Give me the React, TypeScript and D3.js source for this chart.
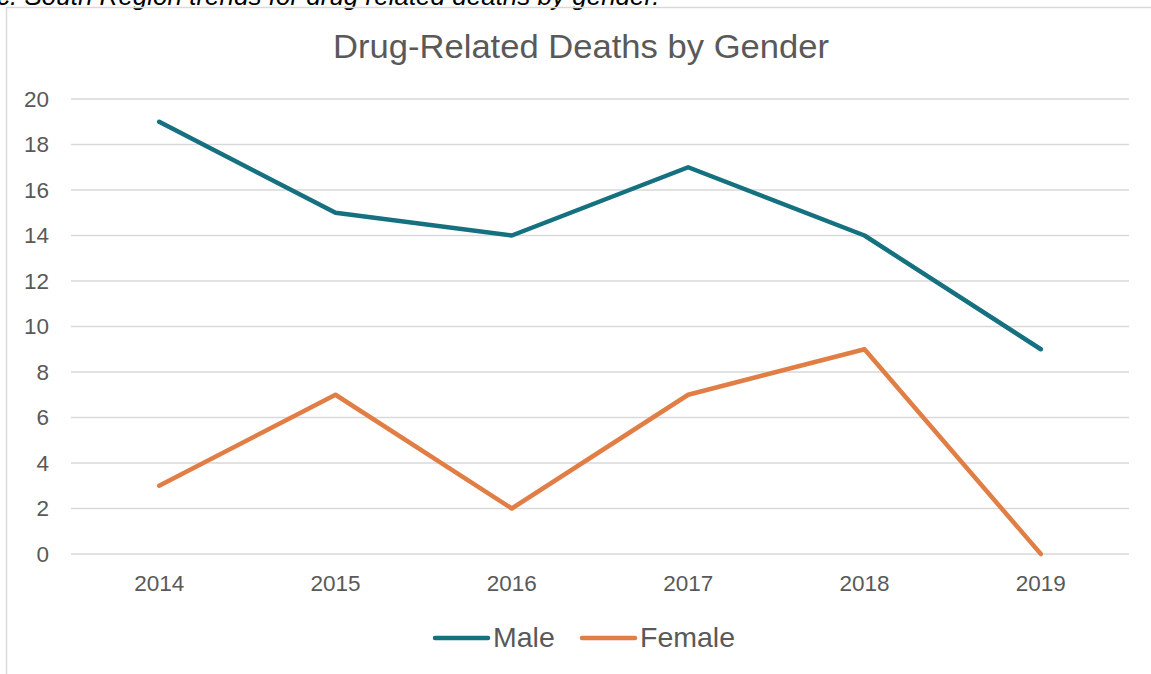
import React from "react";
import * as d3 from "d3";

const years = ["2014", "2015", "2016", "2017", "2018", "2019"];
const maleValues = [19, 15, 14, 17, 14, 9];
const femaleValues = [3, 7, 2, 7, 9, 0];
const yTicks = [0, 2, 4, 6, 8, 10, 12, 14, 16, 18, 20];
const seriesNames = ["Male", "Female"];
const seriesColors = ["#15707F", "#E07E45"];

export default function App() {
  const W = 1151, H = 674;
  const x = d3.scaleBand<string>().domain(years).range([71, 1129]);
  const y = d3.scaleLinear().domain([0, 20]).range([554, 99]);
  const line = d3
    .line<number>()
    .x((_, i) => (x(years[i]) as number) + x.bandwidth() / 2)
    .y((d) => y(d));
  const series = [maleValues, femaleValues];
  const font = "Liberation Sans, Arial, sans-serif";
  const textColor = "#595959";
  return (
    <svg
      width={W}
      height={H}
      style={{ position: "absolute", left: 0, top: 0, background: "#fff" }}
      fontFamily={font}
    >
      <rect x={0} y={0} width={W} height={H} fill="#fff" />
      <text x={-3} y={5} fontSize={26} fontStyle="italic" fill="#000">
        c. South Region trends for drug related deaths by gender.
      </text>
      <line x1={6} x2={W} y1={7.5} y2={7.5} stroke="#d9d9d9" strokeWidth={1.5} />
      <line x1={6.5} x2={6.5} y1={7} y2={H} stroke="#d9d9d9" strokeWidth={1.5} />
      <text x={581} y={58} textAnchor="middle" fontSize={33} fill={textColor} textLength={496} lengthAdjust="spacingAndGlyphs">
        Drug-Related Deaths by Gender
      </text>
      {yTicks.map((t) => (
        <g key={t}>
          <line x1={71} x2={1129} y1={y(t)} y2={y(t)} stroke="#d9d9d9" strokeWidth={1.3} />
          <text x={49} y={y(t) + 7.5} textAnchor="end" fontSize={22.5} fill={textColor}>
            {t}
          </text>
        </g>
      ))}
      {years.map((yr) => (
        <text
          key={yr}
          x={(x(yr) as number) + x.bandwidth() / 2}
          y={591}
          textAnchor="middle"
          fontSize={22.5}
          fill={textColor}
        >
          {yr}
        </text>
      ))}
      {series.map((s, i) => (
        <path
          key={i}
          d={line(s) as string}
          fill="none"
          stroke={seriesColors[i]}
          strokeWidth={4.5}
          strokeLinecap="round"
          strokeLinejoin="round"
        />
      ))}
      {seriesNames.map((n, i) => {
        const lx = i === 0 ? 435 : 582;
        return (
          <g key={n}>
            <line x1={lx} x2={lx + 53} y1={638} y2={638} stroke={seriesColors[i]} strokeWidth={4.5} strokeLinecap="round" />
            <text x={lx + 58} y={647} fontSize={28.5} fill={textColor}>
              {n}
            </text>
          </g>
        );
      })}
    </svg>
  );
}
